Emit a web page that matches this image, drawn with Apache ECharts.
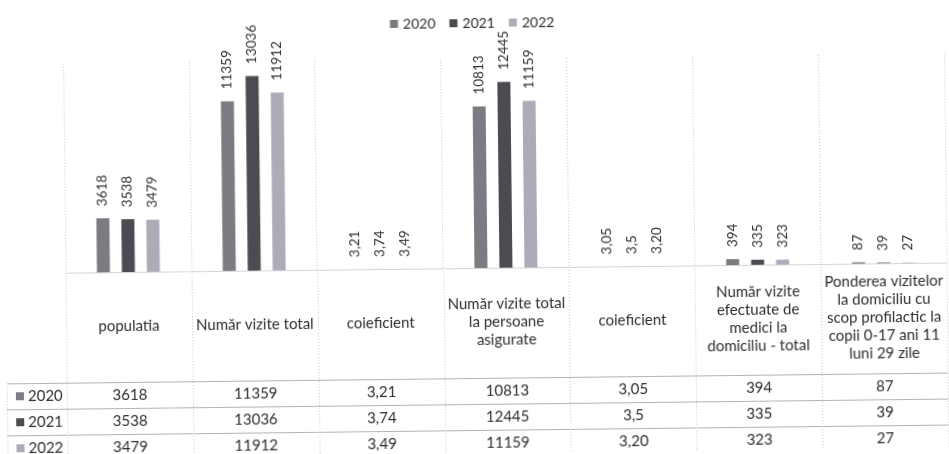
<!DOCTYPE html>
<html>
<head>
<meta charset="utf-8">
<script src="https://cdn.jsdelivr.net/npm/echarts@6/dist/echarts.min.js"></script>
<style>
html,body{margin:0;padding:0;background:#fff;overflow:hidden;}
#c{width:949px;height:454px;transform:rotate(-0.66deg);transform-origin:474.5px 227px;}
</style>
</head>
<body>
<div id="c"></div>
<script>
const categories = [
  'populatia',
  'Număr vizite total',
  'coieficient',
  'Număr vizite total\nla persoane\nasigurate',
  'coieficient',
  'Număr vizite\nefectuate de\nmedici la\ndomiciliu - total',
  'Ponderea vizitelor\nla domiciliu cu\nscop profilactic la\ncopii 0-17 ani 11\nluni 29 zile'
];
const years = ['2020', '2021', '2022'];
const row2020 = ['3618', '11359', '3,21', '10813', '3,05', '394', '87'];
const row2021 = ['3538', '13036', '3,74', '12445', '3,5', '335', '39'];
const row2022 = ['3479', '11912', '3,49', '11159', '3,20', '323', '27'];
const rows = [row2020, row2021, row2022];
const colors = ['#7b7b82', '#4b4b52', '#acacb8'];

const toNum = s => parseFloat(s.replace(',', '.'));

const W = 949, H = 454;
const gLeft = 65, gRight = 3, gTop = 59, gH = 209;
const base = gTop + gH;                 // baseline of plot
const headBottom = 378;                 // bottom of header row of table
const rowH = 26;
const catW = (W - gLeft - gRight) / categories.length;
const font = 'Lato, "Open Sans", sans-serif';
const txt = '#2e2e2e';

const chart = echarts.init(document.getElementById('c'));

const xAxes = [{
  type: 'category', gridIndex: 0, data: categories, position: 'bottom',
  axisLine: {show: true, lineStyle: {color: '#d9d2d9', width: 1}},
  axisTick: {show: false},
  splitLine: {show: true, lineStyle: {color: '#c6c6c6', type: [1, 2], width: 1}},
  axisLabel: {interval: 0, margin: (headBottom - base) / 2 - 1, verticalAlign: 'middle',
    lineHeight: 18, fontSize: 15, color: txt, fontFamily: font, align: 'center'}
}];
rows.forEach((r, i) => {
  xAxes.push({
    type: 'category', gridIndex: 0, data: r, position: 'bottom',
    axisLine: {show: false}, axisTick: {show: false}, splitLine: {show: false},
    axisLabel: {interval: 0, margin: headBottom - base + rowH * i + rowH / 2,
      verticalAlign: 'middle', fontSize: 15, color: txt, fontFamily: font, align: 'center'}
  });
});

const graphics = [];
for (let i = 0; i < 3; i++) {
  const y = headBottom + rowH * i + 0.5;
  graphics.push({type: 'line', silent: true,
    shape: {x1: 5, y1: y, x2: W - gRight, y2: y},
    style: {stroke: '#b4b4b4', lineWidth: 1}});
}
for (let i = 0; i <= categories.length; i++) {
  const x = Math.round(gLeft + catW * i) + 0.5;
  graphics.push({type: 'line', silent: true,
    shape: {x1: x, y1: base, x2: x, y2: H + 10},
    style: {stroke: '#c6c6c6', lineWidth: 1, lineDash: [1, 2]}});
}
graphics.push({type: 'line', silent: true,
  shape: {x1: 5.5, y1: headBottom, x2: 5.5, y2: H + 10},
  style: {stroke: '#c6c6c6', lineWidth: 1, lineDash: [1, 2]}});
years.forEach((y, i) => {
  const cy = headBottom + rowH * i + rowH / 2;
  graphics.push({type: 'rect', silent: true,
    shape: {x: 14, y: cy - 4, width: 8, height: 8}, style: {fill: colors[i]}});
  graphics.push({type: 'text', silent: true, x: 26, y: cy,
    style: {text: y, fill: txt, font: '15px ' + font, verticalAlign: 'middle', align: 'left'}});
});

chart.setOption({
  animation: false,
  backgroundColor: '#fff',
  color: colors,
  legend: {
    data: years, top: 11, left: 'center', icon: 'rect', itemWidth: 8, itemHeight: 8,
    itemGap: 14, textStyle: {fontSize: 14, color: txt, fontFamily: font}
  },
  grid: {left: gLeft, right: gRight, top: gTop, height: gH, containLabel: false},
  xAxis: xAxes,
  yAxis: {type: 'value', min: 0, max: 14000, show: false, splitLine: {show: false}},
  series: years.map((y, i) => ({
    name: y, type: 'bar', xAxisIndex: 0, yAxisIndex: 0,
    data: rows[i].map(toNum),
    barWidth: 13, barGap: '92%',
    itemStyle: {color: colors[i]},
    label: {show: true, position: 'top', rotate: 90, align: 'left', verticalAlign: 'middle',
      distance: 12, fontSize: 13.5, color: txt, fontFamily: font,
      formatter: p => rows[i][p.dataIndex]}
  })),
  graphic: graphics
});
</script>
</body>
</html>
